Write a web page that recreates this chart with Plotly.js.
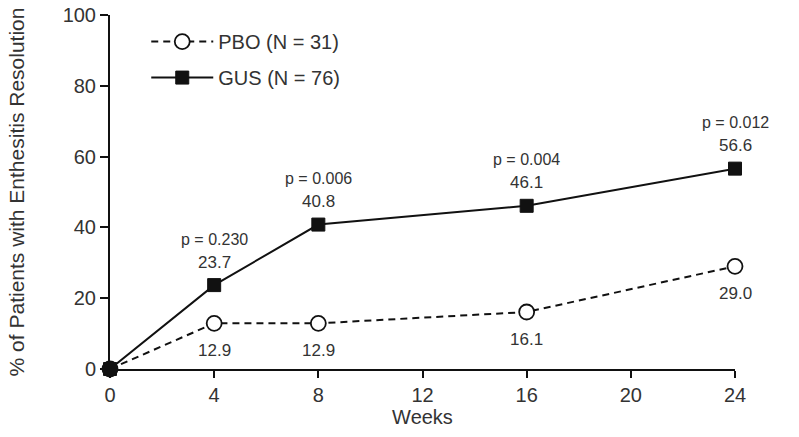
<!DOCTYPE html>
<html>
<head>
<meta charset="utf-8">
<script src="https://cdn.plot.ly/plotly-3.0.1.min.js"></script>
<style>html,body{margin:0;padding:0;background:#fff;}#chart{width:799px;height:437px;}</style>
</head>
<body>
<div id="chart"></div>
<script>
const weeks = [0, 4, 8, 16, 24];
const pboValues = [0, 12.9, 12.9, 16.1, 29.0];
const gusValues = [0, 23.7, 40.8, 46.1, 56.6];
const pboLabels = ["", "12.9", "12.9", "16.1", "29.0"];
const gusLabels = ["", "23.7", "40.8", "46.1", "56.6"];
const pLabels = ["", "p = 0.230", "p = 0.006", "p = 0.004", "p = 0.012"];
const xTicks = [0, 4, 8, 12, 16, 20, 24];
const yTicks = [0, 20, 40, 60, 80, 100];

const txt = '#333333';
const fontFam = 'Liberation Sans, Arial, sans-serif';

const traces = [
  {
    x: weeks, y: pboValues, name: 'PBO (N = 31)', mode: 'lines+markers', legendgroup: 'pbo',
    line: {color: '#111', width: 2, dash: '7px,5px'},
    marker: {symbol: 'circle', size: 15, color: '#fff', line: {color: '#111', width: 1.8}},
    cliponaxis: false
  },
  {
    x: weeks, y: gusValues, name: 'GUS (N = 76)', mode: 'lines+markers', legendgroup: 'gus',
    line: {color: '#111', width: 2},
    marker: {symbol: 'square', size: 13, color: '#111', line: {color: '#111', width: 1}},
    cliponaxis: false
  }
];

const annotations = [];
weeks.forEach((w, i) => {
  if (gusLabels[i]) {
    annotations.push({x: w, y: gusValues[i], text: gusLabels[i], showarrow: false, yshift: 23, font: {size: 17, color: txt, family: fontFam}});
    annotations.push({x: w, y: gusValues[i], text: pLabels[i], showarrow: false, yshift: 46, font: {size: 16, color: txt, family: fontFam}});
  }
  if (pboLabels[i]) {
    annotations.push({x: w, y: pboValues[i], text: pboLabels[i], showarrow: false, yshift: -27, font: {size: 17, color: txt, family: fontFam}});
  }
});

const layout = {
  width: 799, height: 437,
  margin: {l: 110, r: 64, t: 15, b: 68},
  paper_bgcolor: '#fff', plot_bgcolor: '#fff',
  font: {family: fontFam, color: txt},
  showlegend: true,
  legend: {x: 0.058, y: 0.98, xanchor: 'left', yanchor: 'top', font: {size: 20, color: txt}, bgcolor: 'rgba(0,0,0,0)', itemwidth: 62, tracegroupgap: 7},
  xaxis: {
    range: [0, 24], tickvals: xTicks, ticktext: xTicks.map(String),
    showgrid: false, zeroline: false, showline: true, linecolor: '#111', linewidth: 2,
    ticks: 'outside', ticklen: 7, tickwidth: 2, tickcolor: '#111',
    tickfont: {size: 20, color: txt},
    title: {text: 'Weeks', font: {size: 20, color: txt}, standoff: 2}
  },
  yaxis: {
    range: [0, 100], tickvals: yTicks, ticktext: yTicks.map(String),
    showgrid: false, zeroline: false, showline: true, linecolor: '#111', linewidth: 2,
    ticks: 'outside', ticklen: 8, tickwidth: 2, tickcolor: '#111',
    tickfont: {size: 20, color: txt},
    title: {text: '% of Patients with Enthesitis Resolution', font: {size: 21, color: txt}, standoff: 32}
  },
  annotations: annotations
};

Plotly.newPlot('chart', traces, layout, {displayModeBar: false, staticPlot: true});
</script>
</body>
</html>
